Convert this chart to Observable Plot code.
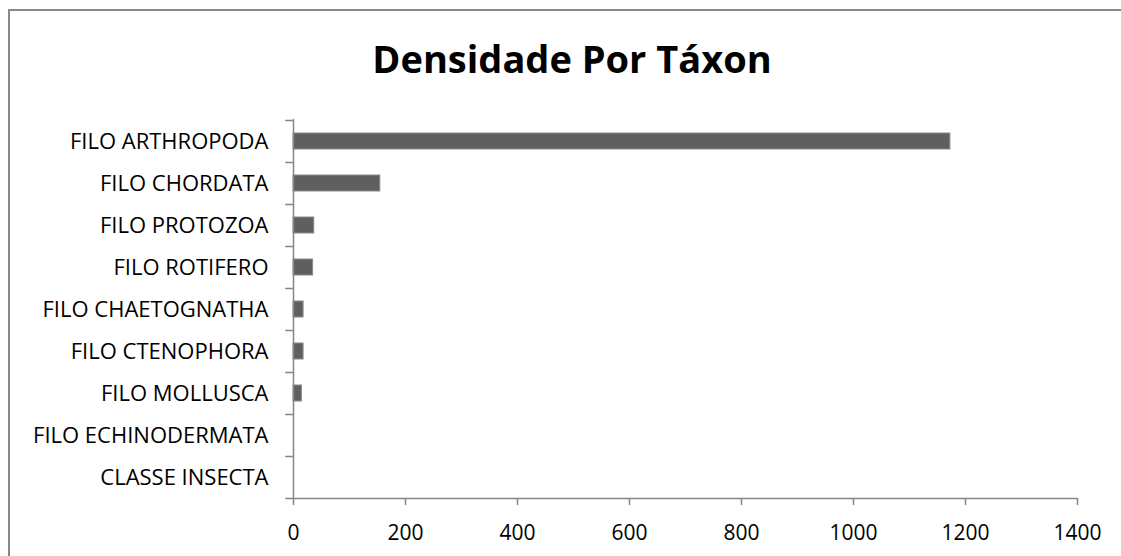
<!DOCTYPE html>
<html><head><meta charset="utf-8">
<script src="https://cdn.jsdelivr.net/npm/d3@7"></script>
<script src="https://cdn.jsdelivr.net/npm/@observablehq/plot@0.6"></script>
<style>
html,body{margin:0;padding:0;background:#fff;overflow:hidden}
#wrap{position:relative;width:1121px;height:556px;overflow:hidden;background:#fff}
#border{position:absolute;left:8px;top:9px;width:1300px;height:800px;border-left:2px solid #888;border-top:2px solid #888}
#title{position:absolute;left:0;width:1144px;top:39px;text-align:center;font-family:"Open Sans";font-weight:bold;font-size:38px;line-height:38px;color:#000}
#chart{position:absolute;left:0;top:100px}
</style></head><body>
<div id="wrap"><div id="border"></div><div id="title">Densidade Por Táxon</div><div id="chart"></div></div>
<script>
const taxa = ["FILO ARTHROPODA","FILO CHORDATA","FILO PROTOZOA","FILO ROTIFERO","FILO CHAETOGNATHA","FILO CTENOPHORA","FILO MOLLUSCA","FILO ECHINODERMATA","CLASSE INSECTA"];
const densidade = [1173, 155, 37, 35, 18, 18, 15, 0, 0];
const xTicks = [0, 200, 400, 600, 800, 1000, 1200, 1400];

const data = taxa.map((t, i) => ({taxon: t, valor: densidade[i]}));
const axisGray = "#868686";

const plot = Plot.plot({
  width: 1121, height: 456,
  marginTop: 19, marginBottom: 58, marginLeft: 293, marginRight: 44,
  style: {fontFamily: "Open Sans", fontSize: "21px", color: "#000", background: "transparent", overflow: "visible"},
  x: {domain: [0, 1400], ticks: xTicks, label: null},
  y: {domain: taxa, padding: 0, label: null},
  marks: [
    Plot.barX(data, {x: "valor", y: "taxon", fill: "#5f5f5f", stroke: "#8a8a8a", strokeWidth: 1, insetTop: 13, insetBottom: 13}),
    Plot.ruleX([0], {stroke: axisGray, strokeWidth: 1.5}),
    Plot.ruleY(taxa, {y: d => d, x1: -14, x2: 0, dy: -21, stroke: axisGray, strokeWidth: 1.5}),
    Plot.ruleY([taxa[taxa.length - 1]], {y: d => d, x1: -14, x2: 1400, dy: 21, stroke: axisGray, strokeWidth: 1.5}),
    Plot.axisX({ticks: xTicks, tickSize: 7, tickPadding: 20, stroke: axisGray, strokeWidth: 1.5, fill: "#000", label: null, tickFormat: d => String(d)}),
    Plot.axisY({tickSize: 0, tickPadding: 25, fill: "#000", label: null, fontSize: 22})
  ]
});
document.getElementById("chart").appendChild(plot);
</script>
</body></html>
